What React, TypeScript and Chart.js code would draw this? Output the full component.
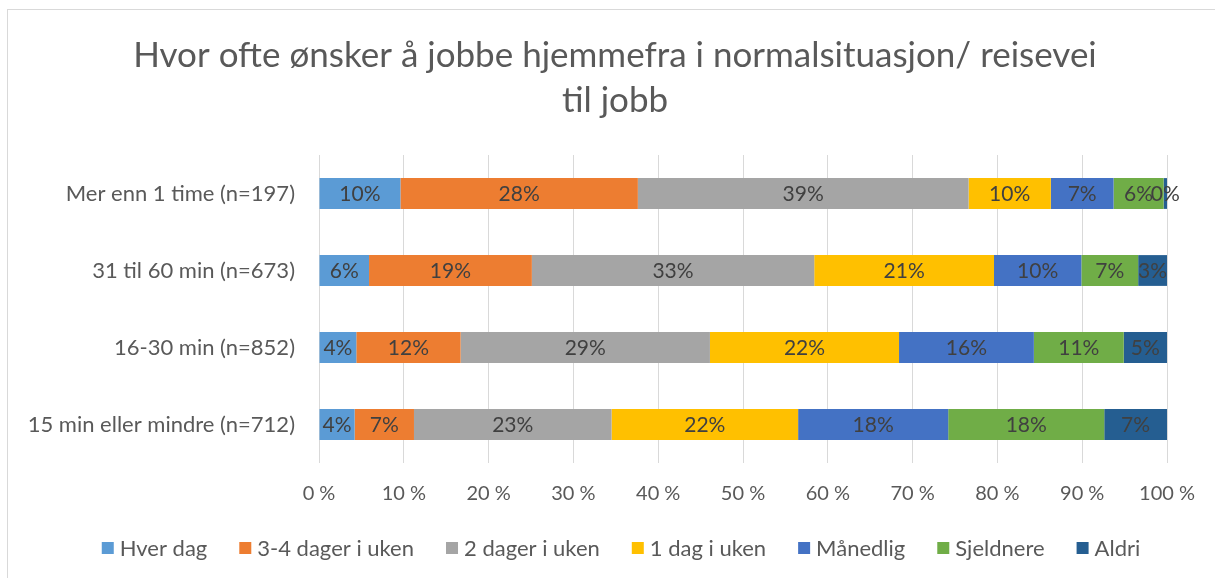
import React, { useEffect, useRef } from "react";
import { Chart, registerables } from "chart.js";

Chart.register(...registerables);

const categories = [
  "Mer enn 1 time (n=197)",
  "31 til 60 min (n=673)",
  "16-30 min (n=852)",
  "15 min eller mindre (n=712)",
];
const seriesNames = ["Hver dag", "3-4 dager i uken", "2 dager i uken", "1 dag i uken", "Månedlig", "Sjeldnere", "Aldri"];
const hverDag = [9.6, 5.9, 4.4, 4.2];
const dager34 = [28.0, 19.2, 12.3, 7.0];
const dager2 = [39.0, 33.3, 29.4, 23.3];
const dag1 = [9.7, 21.2, 22.3, 22.0];
const maanedlig = [7.4, 10.3, 15.9, 17.7];
const sjeldnere = [5.9, 6.7, 10.6, 18.4];
const aldri = [0.4, 3.4, 5.1, 7.4];
const xTicks = [0, 10, 20, 30, 40, 50, 60, 70, 80, 90, 100];
const titleLines = ["Hvor ofte ønsker å jobbe hjemmefra i normalsituasjon/ reisevei", "til jobb"];

const seriesValues = [hverDag, dager34, dager2, dag1, maanedlig, sjeldnere, aldri];
const colors = ["#5B9BD5", "#ED7D31", "#A5A5A5", "#FFC000", "#4472C4", "#70AD47", "#255E91"];

const FONT = "Lato, 'Open Sans', sans-serif";
const TEXT = "#595959";

const labelPlugin = {
  id: "segLabels",
  afterDatasetsDraw(chart: any) {
    const ctx = chart.ctx;
    ctx.save();
    ctx.font = `21px ${FONT}`;
    ctx.fillStyle = "#404040";
    ctx.textAlign = "center";
    ctx.textBaseline = "middle";
    chart.data.datasets.forEach((ds: any, di: number) => {
      const meta = chart.getDatasetMeta(di);
      meta.data.forEach((el: any, i: number) => {
        const p = el.getCenterPoint();
        ctx.fillText(Math.round(ds.data[i]) + "%", p.x, p.y + 1);
      });
    });
    ctx.restore();
  },
};

const titlePlugin = {
  id: "customTitle",
  afterDraw(chart: any) {
    const ctx = chart.ctx;
    ctx.save();
    ctx.font = `35px ${FONT}`;
    ctx.fillStyle = TEXT;
    ctx.textAlign = "center";
    ctx.textBaseline = "middle";
    titleLines.forEach((line, i) => ctx.fillText(line, 615, 56 + i * 45));
    ctx.restore();
  },
};

const legendPlugin = {
  id: "customLegend",
  afterDraw(chart: any) {
    const ctx = chart.ctx;
    ctx.save();
    ctx.font = `22px ${FONT}`;
    ctx.textBaseline = "middle";
    ctx.textAlign = "left";
    const box = 12;
    const gapText = 6;
    const gapItem = 32;
    const items = chart.data.datasets.map((ds: any) => ({
      label: ds.label,
      color: ds.backgroundColor,
      w: ctx.measureText(ds.label).width,
    }));
    const total =
      items.reduce((s: number, it: any) => s + box + gapText + it.w, 0) + gapItem * (items.length - 1);
    let x = 621 - total / 2;
    const y = 548;
    items.forEach((it: any) => {
      ctx.fillStyle = it.color;
      ctx.fillRect(x, y - box / 2, box, box);
      ctx.fillStyle = TEXT;
      ctx.fillText(it.label, x + box + gapText, y + 1);
      x += box + gapText + it.w + gapItem;
    });
    ctx.restore();
  },
};

export default function App() {
  const ref = useRef<HTMLCanvasElement | null>(null);
  useEffect(() => {
    if (!ref.current) return;
    const chart = new Chart(ref.current, {
      type: "bar",
      data: {
        labels: categories,
        datasets: seriesNames.map((name, i) => ({
          label: name,
          data: seriesValues[i],
          backgroundColor: colors[i],
          borderWidth: 0,
          barPercentage: 0.4,
          categoryPercentage: 1,
        })),
      },
      options: {
        indexAxis: "y",
        responsive: false,
        animation: false,
        devicePixelRatio: 1,
        layout: { padding: { left: 0, right: 48, top: 155, bottom: 53 } },
        scales: {
          x: {
            stacked: true,
            min: 0,
            max: 100,
            afterBuildTicks: (scale: any) => {
              scale.ticks = xTicks.map((v) => ({ value: v }));
            },
            grid: { color: "#d9d9d9", lineWidth: 1, drawTicks: false },
            border: { display: false },
            ticks: {
              padding: 19,
              color: TEXT,
              font: { family: FONT, size: 20, lineHeight: 1.2 },
              callback: (v: any) => v + " %",
            },
          },
          y: {
            stacked: true,
            grid: { display: false, drawTicks: false },
            border: { display: false },
            afterFit: (scale: any) => {
              scale.width = 319;
            },
            ticks: {
              padding: 24,
              color: TEXT,
              font: { family: FONT, size: 22 },
            },
          },
        },
        plugins: {
          title: { display: false },
          legend: { display: false },
          tooltip: { enabled: false },
        },
      },
      plugins: [labelPlugin, titlePlugin, legendPlugin],
    } as any);
    return () => chart.destroy();
  }, []);
  return (
    <div style={{ position: "fixed", left: 0, top: 0, width: 1215, height: 578, background: "#fff", overflow: "hidden" }}>
      <canvas ref={ref} width={1215} height={578} style={{ position: "absolute", left: 0, top: 0 }} />
      <div
        style={{
          position: "absolute",
          left: 7,
          top: 9,
          width: 1220,
          height: 600,
          border: "1px solid #d9d9d9",
          pointerEvents: "none",
        }}
      />
    </div>
  );
}
